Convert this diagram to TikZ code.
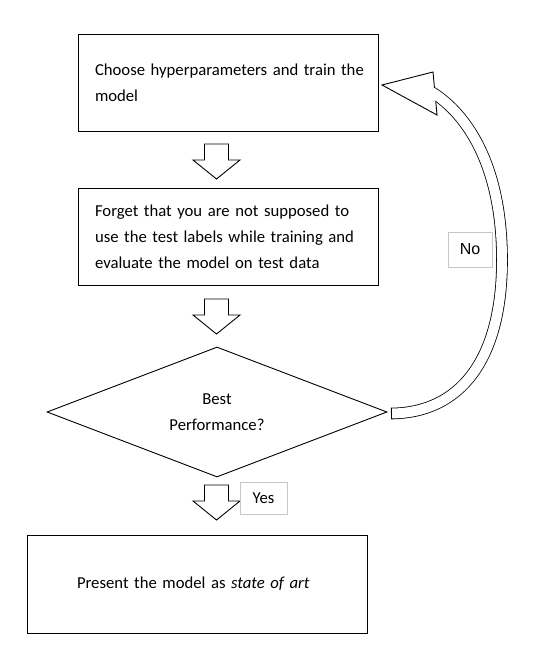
\documentclass[tikz,border=0pt]{standalone}
\usepackage{fontspec}
\setmainfont{Carlito}
\newfontfamily\labelfont{Liberation Sans}
\usetikzlibrary{shapes.geometric}

\tikzset{
  stepbox/.style={draw, line width=0.9pt, align=left, text width=266, minimum height=97, inner xsep=17, inner ysep=0},
  answer/.style={draw=black!22, line width=0.7pt, inner sep=0},
}

\begin{document}
\begin{tikzpicture}[x=1pt, y=-1pt, font=\fontsize{16.7}{26}\selectfont]
				\useasboundingbox (0,0) rectangle (540,668);

				% the steps
				\node [stepbox] (train) at (228,82.5) {\mbox{Choose hyperparameters and train the}\\model};
				\node [stepbox] (eval) at (228,236.5) {Forget that you are not supposed to\\use the test labels while training and\\evaluate the model on test data};
				\node [draw, line width=0.9pt, diamond, aspect=2.67, minimum width=340, minimum height=130, inner sep=0, align=center] (best) at (217,412) {Best\\Performance?};
				\node [stepbox, text width=290, inner xsep=25, minimum height=98] (present) at (197,584) {\hspace*{25pt}Present the model as \textit{state of art}};

				% block arrows down
				\foreach \y in {144,299,485}
					\draw [line width=0.9pt, line join=miter] (204.5,\y) -- (228.5,\y) -- (228.5,\y+16) -- (240,\y+16)
						-- (216.5,\y+35) -- (193,\y+16) -- (204.5,\y+16) -- cycle;

				% curved arrow back to the top
				\coordinate (loopstart) at (391,413.5);
				\coordinate (loopend) at (430,91);
				\draw [line width=0.8pt, double=white, double distance=10pt] (loopstart)
					.. controls (460,413) and (502,360) .. (502,260)
					.. controls (502,170) and (470,115) .. (loopend);
				\draw [line width=0.8pt] (391,408) -- (391,419);
				\filldraw [fill=white, line width=0.9pt, line join=miter] (434.5,88) -- (433,72) -- (382,85) -- (437,115) -- (435.7,101);

				% answers
				\node [answer, minimum width=47, minimum height=32] (yes) at (263.5,498) {Yes};
				\node [answer, minimum width=44, minimum height=35, font=\labelfont\fontsize{16}{18}\selectfont] (no) at (470,249.5) {No};
			\end{tikzpicture}
\end{document}
